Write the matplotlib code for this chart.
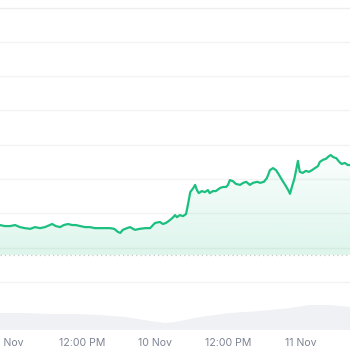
import numpy as np
import matplotlib
matplotlib.use("Agg")
import matplotlib.pyplot as plt
from matplotlib.path import Path
from matplotlib.patches import PathPatch

# hours since 9 Nov 00:00
hours = [-1.5, -0.7, 0.2, 1.0, 1.8, 2.6, 3.5, 4.3, 5.1, 5.9, 6.7, 7.1, 7.7, 8.4, 9.0, 9.7,
         10.4, 11.0, 11.7, 12.5, 13.3, 14.1, 15.0, 15.8, 16.6, 17.3, 17.9, 18.3, 18.7, 19.4,
         19.9, 20.4, 20.7, 21.5, 22.4, 23.2, 24.0, 24.8, 25.3, 25.8, 26.5, 27.0, 27.3, 27.6,
         28.1, 28.6, 29.1, 29.4, 29.8, 30.3, 30.6, 30.9, 31.2, 31.7, 32.2, 32.7, 33.0, 33.5,
         34.0, 34.7, 35.2, 35.7, 36.0, 36.3, 36.8, 37.3, 38.0, 38.5, 39.0, 39.6, 40.1, 40.8,
         41.3, 41.9, 42.4, 42.9, 43.4, 43.9, 44.4, 44.9, 45.4, 45.9, 46.2, 46.5, 46.9, 47.2,
         47.5, 47.8, 48.3, 48.8, 49.3, 49.8, 50.3, 50.8, 51.1, 51.6, 52.1, 52.6, 52.9, 53.3,
         53.8, 54.3, 54.7, 55.2, 55.7, 56.1]
prices = [1166, 1163, 1163, 1166, 1160, 1157, 1155, 1160, 1157, 1160, 1166, 1169, 1163, 1160,
          1166, 1169, 1166, 1166, 1163, 1160, 1160, 1157, 1157, 1157, 1157, 1155, 1146, 1143,
          1152, 1157, 1160, 1155, 1152, 1155, 1157, 1157, 1172, 1175, 1169, 1172, 1181, 1189,
          1195, 1189, 1195, 1192, 1198, 1224, 1262, 1274, 1283, 1268, 1259, 1265, 1262, 1268,
          1259, 1265, 1265, 1274, 1277, 1277, 1283, 1297, 1294, 1286, 1283, 1289, 1292, 1283,
          1289, 1292, 1289, 1292, 1303, 1326, 1332, 1326, 1312, 1297, 1283, 1268, 1257, 1277,
          1300, 1326, 1353, 1321, 1318, 1324, 1321, 1326, 1332, 1338, 1350, 1356, 1359, 1367,
          1370, 1364, 1361, 1350, 1344, 1347, 1341, 1341]

vol_hours = [-1.5, 2.6, 6.7, 10.9, 15.0, 19.1, 23.2, 25.6, 27.3, 31.4, 36.3, 41.3, 46.2, 49.5, 52.8, 56.1]
volumes = [170, 170, 160, 160, 150, 130, 90, 70, 80, 130, 170, 190, 220, 250, 250, 230]

tick_hours = [0, 12, 24, 36, 48]
tick_labels = ["9 Nov", "12:00 PM", "10 Nov", "12:00 PM", "11 Nov"]
grid_levels = [1000, 1100, 1200, 1300, 1400, 1500, 1600, 1700, 1800]
prev_close = 1079

GREEN = "#1cbf80"

fig = plt.figure(figsize=(3.5, 3.5), dpi=100)
ax = fig.add_axes([0, 16 / 350, 1, 334 / 350])
ax.set_xlim(-1.48, 56.06)
ax.set_ylim(848.4, 1822.0)

# volume axis
axv = fig.add_axes([0, 20 / 350, 1, 50 / 350])
axv.set_xlim(-1.48, 56.06)
axv.set_ylim(0, 500)
axv.fill_between(vol_hours, volumes, 0, color="#eff1f4", lw=0)
axv.axis("off")
axv.set_zorder(0)
ax.set_zorder(1)
ax.patch.set_alpha(0)

for g in grid_levels:
    ax.axhline(g, color="#f3f3f3" if g != 1800 else "#eeeeee", lw=1.0, zorder=0)
ax.axhline(prev_close, color="#c8c8c8", lw=0.9, ls=(0, (1, 2.5)), zorder=1)

# gradient fill
x = np.array(hours)
y = np.array(prices)
base = prev_close
verts = np.concatenate([np.column_stack([x, y]), [[x[-1], base], [x[0], base]]])
path = Path(verts)
patch = PathPatch(path, facecolor="none", edgecolor="none")
ax.add_patch(patch)
grad = np.zeros((256, 1, 4))
c = matplotlib.colors.to_rgba(GREEN)
grad[:, 0, 0:3] = c[:3]
grad[:, 0, 3] = np.linspace(0.15, 0.02, 256)
im = ax.imshow(grad, aspect="auto", extent=[x[0], x[-1], 1380, base], origin="upper", zorder=1)
im.set_clip_path(patch)

ax.plot(hours, prices, color=GREEN, lw=1.6, solid_joinstyle="round", zorder=3)

ax.set_xticks(tick_hours)
ax.set_xticklabels(tick_labels, family=["Inter", "DejaVu Sans"], fontsize=7.6, color="#7d8493")
ax.tick_params(axis="x", length=0, pad=3)
ax.set_yticks([])
for s in ax.spines.values():
    s.set_visible(False)

fig.savefig("out.png", dpi=100, facecolor="white")
